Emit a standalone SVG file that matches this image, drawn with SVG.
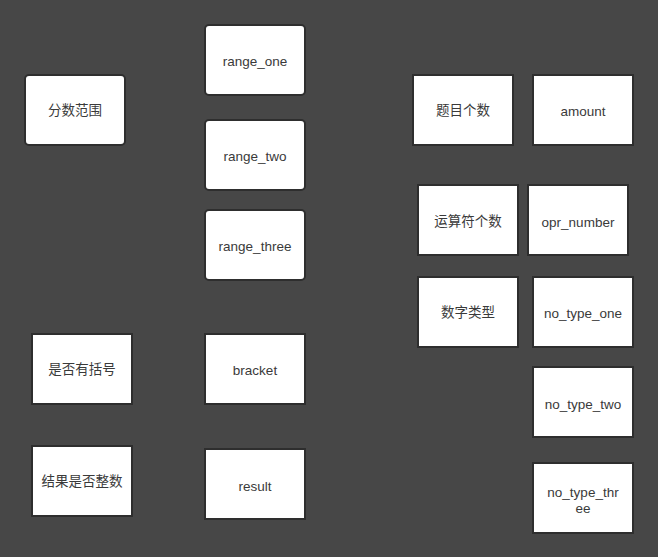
<svg xmlns="http://www.w3.org/2000/svg" width="658" height="557" viewBox="0 0 658 557">
<style>
.bg{fill:#474747}
.n rect{fill:#ffffff;stroke:#2e2e2e;stroke-width:2}
.n text{font-family:"Liberation Sans","Noto Sans CJK SC",sans-serif;font-size:13.5px;fill:#3a3a3a;text-anchor:middle;dominant-baseline:central}
</style>
<rect class="bg" x="0" y="0" width="658" height="557"/>
<g id="connectors"></g>
<g id="n_fenshu" class="n"><rect x="25" y="75" width="100" height="70" rx="4"/><text x="75" y="110">分数范围</text></g>
<g id="n_range_one" class="n"><rect x="205" y="25" width="100" height="70" rx="4"/><text x="255" y="61">range_one</text></g>
<g id="n_range_two" class="n"><rect x="205" y="120" width="100" height="70" rx="4"/><text x="255" y="156">range_two</text></g>
<g id="n_range_three" class="n"><rect x="205" y="210" width="100" height="70" rx="4"/><text x="255" y="246">range_three</text></g>
<g id="n_kuohao" class="n"><rect x="32" y="334" width="100" height="70"/><text x="82" y="369">是否有括号</text></g>
<g id="n_bracket" class="n"><rect x="205" y="334" width="100" height="70"/><text x="255" y="370">bracket</text></g>
<g id="n_zhengshu" class="n"><rect x="32" y="446" width="100" height="70"/><text x="82" y="481">结果是否整数</text></g>
<g id="n_result" class="n"><rect x="205" y="449" width="100" height="70"/><text x="255" y="486">result</text></g>
<g id="n_timu" class="n"><rect x="413" y="75" width="100" height="70"/><text x="463" y="110">题目个数</text></g>
<g id="n_amount" class="n"><rect x="533" y="75" width="100" height="70"/><text x="583" y="111">amount</text></g>
<g id="n_yunsuanfu" class="n"><rect x="418" y="185" width="100" height="70"/><text x="468" y="221">运算符个数</text></g>
<g id="n_opr_number" class="n"><rect x="528" y="185" width="100" height="70"/><text x="578" y="222">opr_number</text></g>
<g id="n_shuzi" class="n"><rect x="418" y="277" width="100" height="70"/><text x="468" y="312">数字类型</text></g>
<g id="n_no_type_one" class="n"><rect x="533" y="277" width="100" height="70"/><text x="583" y="313">no_type_one</text></g>
<g id="n_no_type_two" class="n"><rect x="533" y="367" width="100" height="70"/><text x="583" y="404">no_type_two</text></g>
<g id="n_no_type_three" class="n"><rect x="533" y="463" width="100" height="70"/><text x="583" y="492">no_type_thr</text><text x="583" y="508">ee</text></g>
</svg>
